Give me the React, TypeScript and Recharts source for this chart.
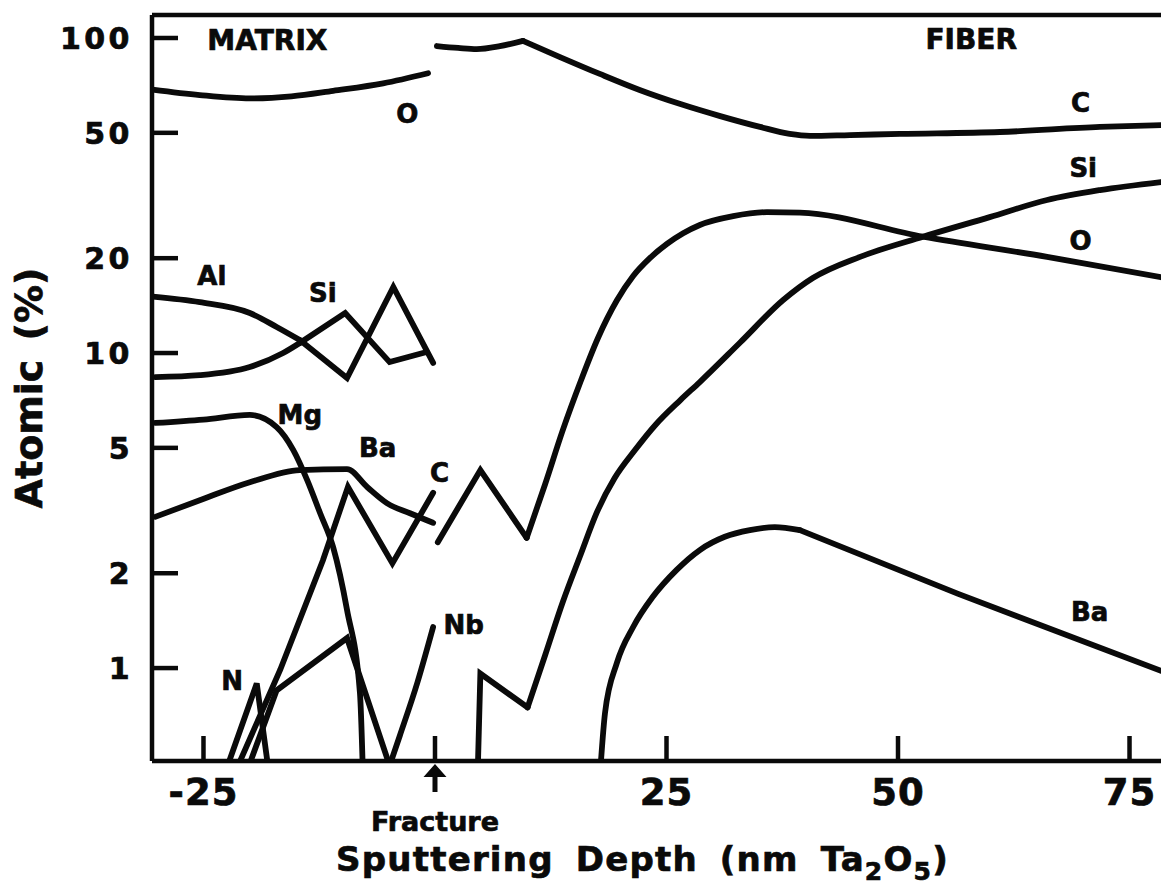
import React from 'react';
import { LineChart, Line, XAxis, YAxis, ReferenceLine, ReferenceDot, Label } from 'recharts';

// ---------- axes ----------
const X_DOMAIN: [number, number] = [-30.56, 78.4];
const Y_DOMAIN: [number, number] = [0.507, 118.3];
const xTicks = [-25, 0, 25, 50, 75];
const yTicks = [1, 2, 5, 10, 20, 50, 100];

type P = { d: number; v: number };
const pts = (a: number[][]): P[] => a.map(([d, v]) => ({ d, v }));

// ---------- series (d = sputtering depth, v = atomic %) ----------
const matrixO = pts([[-30.5, 68.6], [-25.4, 65.9], [-20, 64.3], [-15.5, 65.3], [-11, 68], [-5.6, 71.8], [-0.75, 77.3]]);
const fiberCStart = pts([[0.2, 94.3], [2.5, 93], [4.5, 92.2], [7, 94.2], [9.5, 97.9]]);
const fiberC = pts([[9.5, 97.9], [13.5, 87.0], [17.8, 76.9], [22.1, 68.4], [26.5, 61.7], [30.8, 56.5], [35.1, 52.2], [38.3, 49.6], [40.5, 48.9], [44.8, 49.2], [50.2, 49.6], [61.0, 50.3], [71.8, 52.2], [78.4, 52.9]]);
const matrixAlCurve = pts([[-30.45, 15.1], [-25.4, 14.5], [-20, 13.4], [-17.1, 12.1], [-14.6, 11.0]]);
const matrixAlZig = pts([[-14.6, 11.0], [-9.5, 8.33], [-4.5, 16.2], [-0.2, 9.3]]);
const matrixSiCurve = pts([[-30.2, 8.39], [-25.4, 8.51], [-20, 9.03], [-16.4, 10.0], [-14.6, 10.76]]);
const matrixSiZig = pts([[-14.6, 10.76], [-9.7, 13.4], [-4.9, 9.36], [-0.9, 10.07]]);
const matrixMg = pts([[-30.2, 6.0], [-25, 6.15], [-20, 6.36], [-17.1, 5.82], [-15.3, 4.92], [-13.8, 3.95], [-12.4, 3.1], [-11, 2.42], [-9.5, 1.53], [-8.1, 0.83], [-7.8, 0.48]]);
const matrixBa = pts([[-30.2, 3.02], [-25.4, 3.41], [-20, 3.89], [-14.6, 4.25], [-9.5, 4.28], [-7.3, 3.75], [-5.2, 3.34], [-2.7, 3.1], [-0.2, 2.89]]);
const matrixC = pts([[-21.4, 0.48], [-16.7, 0.99], [-12.1, 2.2], [-9.4, 3.76], [-4.6, 2.15], [-0.2, 3.6]]);
const fiberOZig = pts([[0.3, 2.51], [4.9, 4.25], [9.9, 2.59]]);
const fiberO = pts([[9.9, 2.59], [11.9, 3.84], [13.8, 5.69], [15.7, 8.09], [17.6, 11.16], [19.65, 14.7], [21.4, 17.56], [23.2, 20.0], [25.05, 22.2], [26.8, 24.0], [28.6, 25.5], [32.2, 27.2], [35.85, 28.0], [39.4, 27.9], [52.7, 23.4], [66.1, 20.2], [78.4, 17.4]]);
const fiberSiZig = pts([[4.6, 0.45], [4.9, 0.96], [10.0, 0.75]]);
const fiberSi = pts([[10.0, 0.75], [11.9, 1.1], [13.8, 1.62], [15.7, 2.28], [17.5, 3.13], [19.4, 4.01], [21.6, 4.92], [23.8, 5.91], [26.5, 7.09], [28.6, 8.09], [32.9, 10.76], [37.6, 14.73], [40.8, 17.3], [45.9, 20.2], [52.7, 23.4], [59.9, 27.0], [66.1, 30.6], [71.8, 32.9], [78.4, 34.9]]);
const fiberBaCurve = pts([[17.8, 0.45], [18.36, 0.72], [19.65, 1.04], [21.4, 1.35], [23.5, 1.68], [26.1, 2.05], [28.6, 2.37], [31.3, 2.61], [34.0, 2.74], [36.7, 2.8], [39.4, 2.74]]);
const fiberBaTail = pts([[39.4, 2.74], [56.5, 1.72], [78.4, 0.98]]);
const niobiumA = pts([[-20.2, 0.48], [-17.1, 0.85], [-9.5, 1.245], [-4.9, 0.49]]);
const niobiumB = pts([[-4.9, 0.49], [-3.8, 0.61], [-1.9, 0.9], [-0.2, 1.35]]);
const nitrogen = pts([[-22.5, 0.48], [-19.25, 0.894], [-18.0, 0.48]]);

// ---------- annotations (data coordinates) ----------
const regionLabels = [
  { text: 'MATRIX', d: -18.1, v: 98.6 },
  { text: 'FIBER', d: 57.9, v: 99.3 },
];
const elementLabels = [
  { text: 'O', d: -3.0, v: 57.4 },
  { text: 'C', d: 69.7, v: 62.2 },
  { text: 'Si', d: 70.0, v: 38.7 },
  { text: 'O', d: 69.7, v: 22.8 },
  { text: 'Al', d: -24.1, v: 17.6 },
  { text: 'Si', d: -12.1, v: 15.5 },
  { text: 'Mg', d: -14.6, v: 6.36 },
  { text: 'Ba', d: -6.2, v: 4.99 },
  { text: 'C', d: 0.5, v: 4.16 },
  { text: 'Nb', d: 3.1, v: 1.37 },
  { text: 'N', d: -21.9, v: 0.91 },
  { text: 'Ba', d: 70.7, v: 1.51 },
];

const smoothSeries = [matrixO, fiberCStart, fiberC, matrixAlCurve, matrixSiCurve, matrixMg, matrixBa, fiberO, fiberSi, fiberBaCurve, niobiumB];
const straightSeries = [matrixAlZig, matrixSiZig, matrixC, fiberOZig, fiberSiZig, fiberBaTail, niobiumA, nitrogen];

const FONT = "'DejaVu Sans', 'Liberation Sans', sans-serif";
const INK = '#0a0a0a';
const LINE_W = 5.8;
const textInk = { fill: INK, stroke: INK, strokeWidth: 0.7 } as const;

const XTick = (props: any) => {
  const { x, y, payload } = props;
  if (payload.value === 0) {
    return (
      <g>
        <path
          d={`M${x},${y - 15} L${x + 11.5},${y - 2} L${x + 2.5},${y - 2} L${x + 2.5},${y + 13} L${x - 2.5},${y + 13} L${x - 2.5},${y - 2} L${x - 11.5},${y - 2} Z`}
          fill={INK}
        />
        <text x={x} y={y + 42} dy="0.36em" textAnchor="middle" fontFamily={FONT} fontWeight="bold" fontSize={27} {...textInk}>
          Fracture
        </text>
      </g>
    );
  }
  return (
    <text x={x} y={y} dy="0.71em" textAnchor="middle" fontFamily={FONT} fontWeight="bold" fontSize={37} letterSpacing={1} {...textInk}>
      {payload.value}
    </text>
  );
};

const YTick = (props: any) => {
  const { x, y, payload } = props;
  return (
    <text x={x} y={y} dy="0.36em" textAnchor="end" fontFamily={FONT} fontWeight="bold" fontSize={30} letterSpacing={3.5} {...textInk}>
      {payload.value}
    </text>
  );
};

const XTitle = (props: any) => {
  const vb = props.viewBox || { x: 152, y: 761, width: 1009, height: 135 };
  const cx = vb.x + vb.width / 2 - 14;
  const by = vb.y + 110;
  return (
    <text x={cx} y={by} textAnchor="middle" fontFamily={FONT} fontWeight="bold" fontSize={34} letterSpacing={1.2} wordSpacing={9} {...textInk}>
      <tspan>Sputtering Depth (nm Ta</tspan>
      <tspan dy={9} fontSize={25}>2</tspan>
      <tspan dy={-9}>O</tspan>
      <tspan dy={9} fontSize={25}>5</tspan>
      <tspan dy={-9}>)</tspan>
    </text>
  );
};

const YTitle = (props: any) => {
  const vb = props.viewBox || { x: 0, y: 15, width: 152, height: 746 };
  const cx = 28;
  const cy = vb.y + vb.height / 2;
  return (
    <text x={cx} y={cy} dy="0.36em" textAnchor="middle" transform={`rotate(-90, ${cx}, ${cy})`} fontFamily={FONT} fontWeight="bold" fontSize={38} wordSpacing={6} {...textInk}>
      Atomic (%)
    </text>
  );
};

const makeLabelShape = (text: string, size: number) => (p: any) => (
  <text x={p.cx} y={p.cy} dy="0.36em" textAnchor="middle" fontFamily={FONT} fontWeight="bold" fontSize={size} {...textInk}>
    {text}
  </text>
);

export default function App() {
  return (
    <div style={{ position: 'absolute', left: 0, top: 0, width: 1161, height: 896, background: '#fff' }}>
      <LineChart width={1161} height={896} margin={{ top: 15, right: 0, bottom: 0, left: 0 }}>
        <XAxis
          type="number"
          dataKey="d"
          domain={X_DOMAIN}
          allowDataOverflow
          ticks={xTicks}
          interval={0}
          height={135}
          axisLine={{ stroke: INK, strokeWidth: 4.5 }}
          tickLine={{ stroke: INK, strokeWidth: 4.5 }}
          tickSize={-25}
          tickMargin={43}
          tick={(p: any) => <XTick {...p} />}
        >
          <Label content={(p: any) => <XTitle {...p} />} />
        </XAxis>
        <YAxis
          type="number"
          scale="log"
          domain={Y_DOMAIN}
          allowDataOverflow
          ticks={yTicks}
          interval={0}
          width={152}
          axisLine={{ stroke: INK, strokeWidth: 4.5 }}
          tickLine={{ stroke: INK, strokeWidth: 4.5 }}
          tickSize={-26}
          tickMargin={45}
          tick={(p: any) => <YTick {...p} />}
        >
          <Label content={(p: any) => <YTitle {...p} />} />
        </YAxis>
        <ReferenceLine y={Y_DOMAIN[1]} stroke={INK} strokeWidth={4.5} ifOverflow="visible" />
        {smoothSeries.map((s, i) => (
          <Line
            key={`s${i}`}
            data={s}
            dataKey="v"
            type="monotone"
            stroke={INK}
            strokeWidth={LINE_W}
            strokeLinecap="round"
            strokeLinejoin="round"
            dot={false}
            activeDot={false}
            legendType="none"
            isAnimationActive={false}
          />
        ))}
        {straightSeries.map((s, i) => (
          <Line
            key={`l${i}`}
            data={s}
            dataKey="v"
            type="linear"
            stroke={INK}
            strokeWidth={LINE_W}
            strokeLinecap="round"
            strokeLinejoin="miter"
            dot={false}
            activeDot={false}
            legendType="none"
            isAnimationActive={false}
          />
        ))}
        {regionLabels.map((a, i) => (
          <ReferenceDot key={`r${i}`} x={a.d} y={a.v} r={0} ifOverflow="visible" shape={makeLabelShape(a.text, 28)} />
        ))}
        {elementLabels.map((a, i) => (
          <ReferenceDot key={`e${i}`} x={a.d} y={a.v} r={0} ifOverflow="visible" shape={makeLabelShape(a.text, 26)} />
        ))}
      </LineChart>
    </div>
  );
}
